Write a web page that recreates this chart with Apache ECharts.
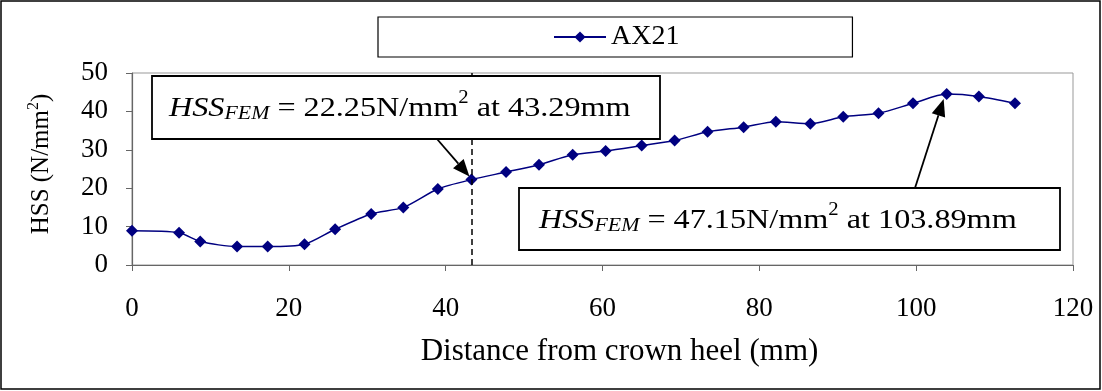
<!DOCTYPE html>
<html>
<head>
<meta charset="utf-8">
<script src="https://cdn.jsdelivr.net/npm/echarts@6/dist/echarts.min.js"></script>
<style>
  html, body { margin: 0; padding: 0; background: #fff; }
  #main { width: 1102px; height: 391px; }
</style>
</head>
<body>
<div id="main"></div>
<script>
// 数据
let distance = [0, 6.0, 8.7, 13.4, 17.3, 22.0, 25.9, 30.5, 34.6, 39.0, 43.29, 47.7, 51.9, 56.2,
  60.4, 65.0, 69.2, 73.4, 78.0, 82.1, 86.5, 90.7, 95.2, 99.6, 103.89, 108.0, 112.6];
let hss = [8.9, 8.4, 6.1, 4.8, 4.8, 5.4, 9.3, 13.3, 15.0, 19.8, 22.25, 24.2, 26.1, 28.7,
  29.7, 31.1, 32.4, 34.7, 35.9, 37.3, 36.8, 38.6, 39.5, 42.1, 44.5, 43.9, 42.1];
let seriesName = 'AX21';
let xTicks = [0, 120, 20];
let yTicks = [0, 50, 10];
// 标注: 点序号
let note1Idx = 10;
let note2Idx = 24;

let serif = 'Liberation Serif';
let navy = '#000080';

let myChart = echarts.init(document.getElementById('main'));

let richText = {
  i: { fontFamily: serif, fontStyle: 'italic', fontSize: 28, lineHeight: 34, verticalAlign: 'bottom', color: '#000' },
  sub: { fontFamily: serif, fontStyle: 'italic', fontSize: 19, lineHeight: 34, verticalAlign: 'bottom', color: '#000' },
  n: { fontFamily: serif, fontSize: 28, lineHeight: 34, verticalAlign: 'bottom', color: '#000' },
  sup: { fontFamily: serif, fontSize: 18, lineHeight: 34, verticalAlign: 'top', color: '#000' }
};

function noteText(val, pos) {
  return '{i|HSS}{sub|FEM}{n| = ' + val + 'N/mm}{sup|2}{n| at ' + pos + 'mm}';
}

let option = {
  animation: false,
  backgroundColor: '#fff',
  grid: {
    left: 132,
    right: 29,
    top: 73,
    bottom: 126,
    show: true,
    borderColor: '#999',
    borderWidth: 1
  },
  legend: {
    data: [seriesName],
    left: 378,
    top: 17,
    padding: [6, 173, 6, 175],
    borderColor: '#000',
    borderWidth: 1.2,
    itemWidth: 52,
    itemHeight: 14,
    textStyle: {
      fontFamily: serif,
      fontSize: 28,
      color: '#000'
    }
  },
  xAxis: {
    type: 'value',
    min: xTicks[0],
    max: xTicks[1],
    interval: xTicks[2],
    name: 'Distance from crown heel (mm)',
    nameLocation: 'middle',
    nameGap: 71,
    nameTextStyle: { fontFamily: serif, fontSize: 31, color: '#000', padding: [0, 0, 0, 34] },
    splitLine: { show: false },
    axisLine: { lineStyle: { color: '#666', width: 1.2 } },
    axisTick: { show: true, inside: false, length: 6, lineStyle: { color: '#666' } },
    axisLabel: { fontFamily: serif, fontSize: 27, color: '#000', margin: 30 }
  },
  yAxis: {
    type: 'value',
    min: yTicks[0],
    max: yTicks[1],
    interval: yTicks[2],
    name: '{n|HSS (N/mm}{s|2}{n|)}',
    nameLocation: 'middle',
    nameRotate: 90,
    nameGap: 78,
    nameTextStyle: {
      padding: [0, 0, 0, 10],
      rich: {
        n: { fontFamily: serif, fontSize: 25, color: '#000', lineHeight: 28, verticalAlign: 'bottom' },
        s: { fontFamily: serif, fontSize: 16, color: '#000', lineHeight: 28, verticalAlign: 'top' }
      }
    },
    splitLine: { show: false },
    axisLine: { show: true, lineStyle: { color: '#666', width: 1.2 } },
    axisTick: { show: true, inside: false, length: 6, lineStyle: { color: '#666' } },
    axisLabel: { fontFamily: serif, fontSize: 27, color: '#000', margin: 24 }
  },
  series: [
    {
      name: seriesName,
      type: 'line',
      smooth: 0.25,
      symbol: 'diamond',
      symbolSize: 12,
      itemStyle: { color: navy },
      lineStyle: { color: navy, width: 1.5 },
      data: distance.map((d, i) => [d, hss[i]]),
      markLine: {
        silent: true,
        symbol: 'none',
        label: { show: false },
        lineStyle: { color: '#000', type: [6, 4], width: 1.5 },
        data: [{ xAxis: distance[note1Idx] }]
      }
    }
  ]
};
myChart.setOption(option);

// 箭头指向数据点
function arrow(from, to) {
  let dx = to[0] - from[0];
  let dy = to[1] - from[1];
  let len = Math.sqrt(dx * dx + dy * dy);
  let ux = dx / len, uy = dy / len;
  let headL = 17, headW = 7;
  let bx = to[0] - ux * headL, by = to[1] - uy * headL;
  return [
    {
      type: 'line', z: 20,
      shape: { x1: from[0], y1: from[1], x2: bx, y2: by },
      style: { stroke: '#000', lineWidth: 1.8 }
    },
    {
      type: 'polygon', z: 20,
      shape: { points: [to, [bx - uy * headW, by + ux * headW], [bx + uy * headW, by - ux * headW]] },
      style: { fill: '#000' }
    }
  ];
}

let p1 = myChart.convertToPixel({ gridIndex: 0 }, [distance[note1Idx], hss[note1Idx]]);
let p2 = myChart.convertToPixel({ gridIndex: 0 }, [distance[note2Idx], hss[note2Idx]]);

let graphics = [
  // 外框
  {
    type: 'rect', z: 1, silent: true,
    shape: { x: 1, y: 1, width: 1099, height: 388 },
    style: { fill: null, stroke: '#000', lineWidth: 1.5 }
  },
  // 标注框 1
  {
    type: 'rect', z: 15,
    shape: { x: 152, y: 76, width: 508, height: 63 },
    style: { fill: '#fff', stroke: '#000', lineWidth: 1.8 }
  },
  {
    type: 'text', z: 16, x: 169, y: 89, scaleX: 1.15,
    style: { text: noteText('22.25', '43.29'), rich: richText, verticalAlign: 'top' }
  },
  // 标注框 2
  {
    type: 'rect', z: 15,
    shape: { x: 519, y: 188, width: 541, height: 62 },
    style: { fill: '#fff', stroke: '#000', lineWidth: 1.8 }
  },
  {
    type: 'text', z: 16, x: 539, y: 201, scaleX: 1.15,
    style: { text: noteText('47.15', '103.89'), rich: richText, verticalAlign: 'top' }
  }
];
graphics = graphics.concat(arrow([437, 139], [p1[0] - 2, p1[1] - 3]));
graphics = graphics.concat(arrow([915, 188], [p2[0] - 3, p2[1] + 5]));

myChart.setOption({ graphic: graphics });
</script>
</body>
</html>
